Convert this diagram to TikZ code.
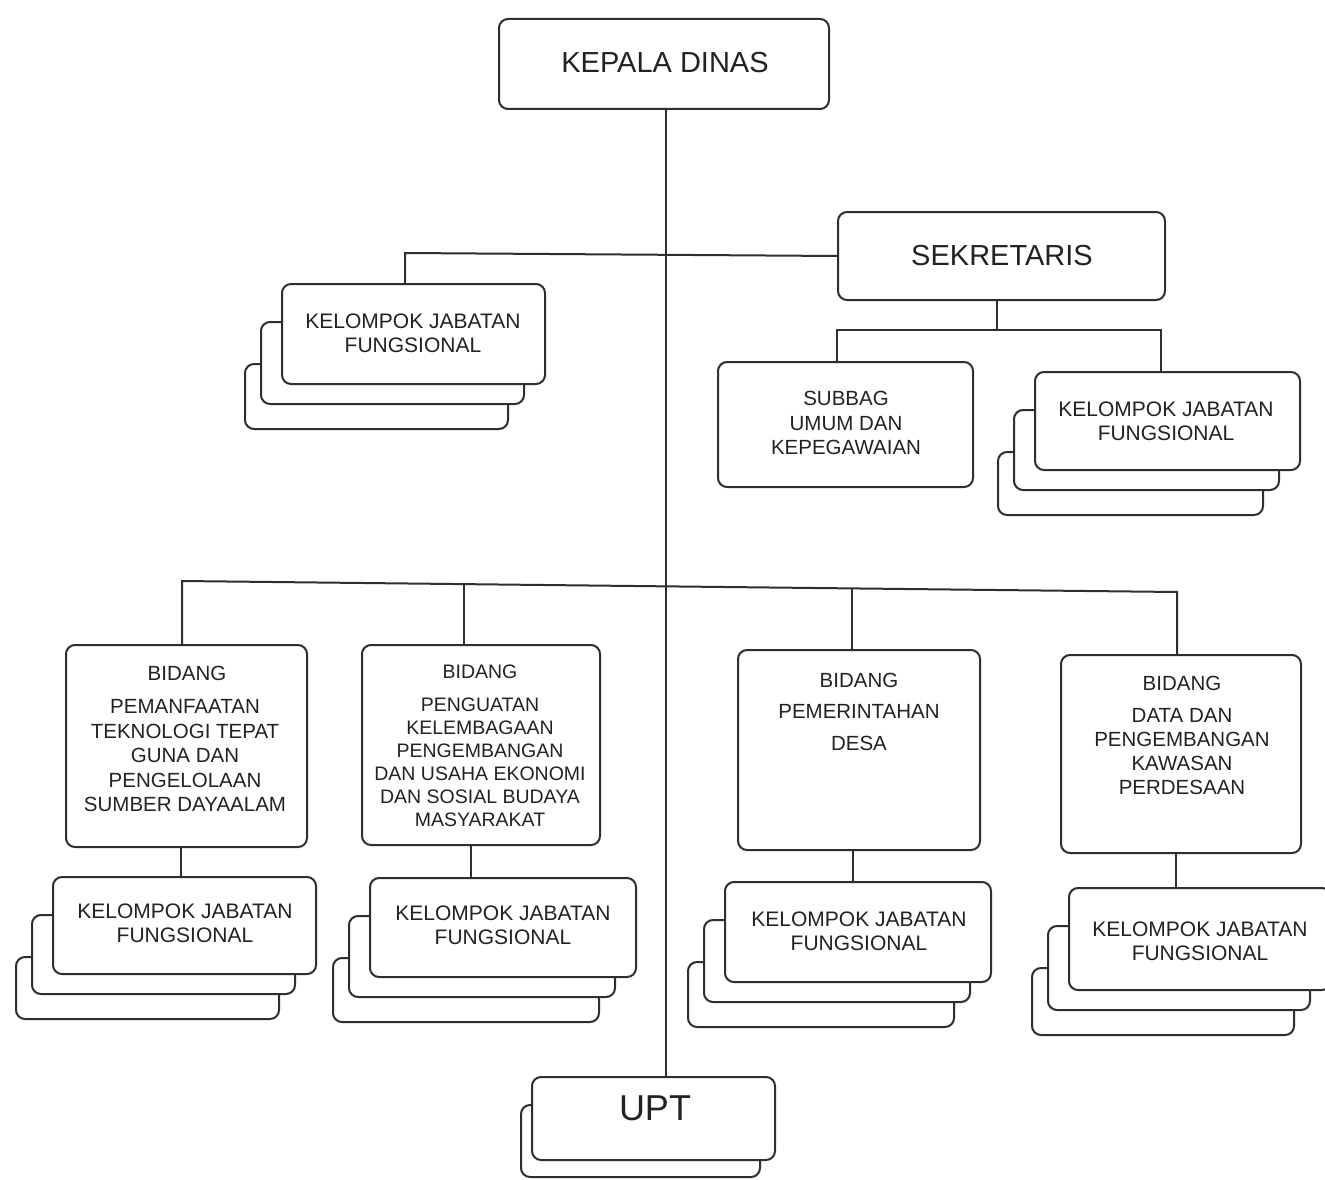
\documentclass[tikz,border=0pt]{standalone}
\usepackage{fontspec}
\setmainfont{Liberation Sans}
\definecolor{lc}{HTML}{2E2E2E}
\definecolor{tc}{HTML}{222222}
\newcommand\bx[5]{\node[box, minimum width={(#4)-(#2)}, minimum height={(#5)-(#3)}] (#1) at ({((#2)+(#4))/2},{((#3)+(#5))/2}) {};}
\newcommand\stk[5]{%
  \bx{#1c}{#2-37}{#3+80}{#4-37}{#5+45}%
  \bx{#1b}{#2-21}{#3+38}{#4-21}{#5+20}%
  \bx{#1}{#2}{#3}{#4}{#5}}
\begin{document}
\begin{tikzpicture}[x=1pt,y=-1pt,
  box/.style={draw=lc, line width=2, rounded corners=9, fill=white, inner sep=0, outer sep=0},
  conn/.style={draw=lc, line width=2},
  lbl/.style={text=tc, align=center, inner sep=0, font=\fontsize{21}{24}\selectfont},
  big/.style={text=tc, align=center, inner sep=0, font=\fontsize{29}{34}\selectfont}]
\useasboundingbox (0,0) rectangle (1325,1180);
% connector coordinates
\coordinate (m) at (666,0);
\coordinate (j0) at (405,253);
\coordinate (s1) at (997,330);
\coordinate (sL) at (837,330);
\coordinate (sR) at (1161,330);
\coordinate (hL) at (182,581);
\coordinate (hR) at (1177,592);
\coordinate (d2) at (464,584);
\coordinate (d3) at (852,588);
\coordinate (x1) at (181,0);
\coordinate (x2) at (471,0);
\coordinate (x3) at (853,0);
\coordinate (x4) at (1176,0);
% main boxes
\bx{kd}{499}{19}{829}{109}
\bx{sek}{838}{212}{1165}{300}
\bx{sub}{718}{362}{973}{487}
\bx{b1}{66}{645}{307}{847}
\bx{b2}{362}{645}{600}{845}
\bx{b3}{738}{650}{980}{850}
\bx{b4}{1061}{655}{1301}{853}
% connectors (drawn before the stacked boxes)
\draw[conn] (kd.south -| m) -- (m |- 0,1077);
\draw[conn] (sek.west) -- (j0) -- (j0 |- 0,285);
\draw[conn] (sek.south -| s1) -- (s1);
\draw[conn] (sL |- sub.north) -- (sL) -- (sR) -- (sR |- 0,372);
\draw[conn] (hL |- b1.north) -- (hL) -- (hR) -- (hR |- b4.north);
\draw[conn] (d2) -- (d2 |- b2.north);
\draw[conn] (d3) -- (d3 |- b3.north);
\draw[conn] (b1.south -| x1) -- (x1 |- 0,877);
\draw[conn] (b2.south -| x2) -- (x2 |- 0,878);
\draw[conn] (b3.south -| x3) -- (x3 |- 0,882);
\draw[conn] (b4.south -| x4) -- (x4 |- 0,888);
% stacked boxes
\stk{k0}{282}{284}{545}{384}
\stk{ks}{1035}{372}{1300}{470}
\stk{k1}{53}{877}{316}{974}
\stk{k2}{370}{878}{636}{977}
\stk{k3}{725}{882}{991}{982}
\stk{k4}{1069}{888}{1331}{990}
\bx{uptb}{521}{1105}{760}{1177}
\bx{upt}{532}{1077}{775}{1160}
% texts
\node[big] (tkd) at (665,63) {KEPALA DINAS};
\node[big] (tsek) at (1002,256) {SEKRETARIS};
\node[text=tc, inner sep=0, font=\fontsize{36}{40}\selectfont] (tupt) at (655,1108) {UPT};
\node[lbl] (tk0) at (413,333) {KELOMPOK JABATAN\\FUNGSIONAL};
\node[lbl] (tks) at (1166,421) {KELOMPOK JABATAN\\FUNGSIONAL};
\node[lbl] (tk1) at (185,923.5) {KELOMPOK JABATAN\\FUNGSIONAL};
\node[lbl] (tk2) at (503,925.5) {KELOMPOK JABATAN\\FUNGSIONAL};
\node[lbl] (tk3) at (859,931.5) {KELOMPOK JABATAN\\FUNGSIONAL};
\node[lbl] (tk4) at (1200,941) {KELOMPOK JABATAN\\FUNGSIONAL};
\node[lbl, font=\fontsize{20.5}{24.5}\selectfont] (tsub) at (846,423) {SUBBAG\\UMUM DAN\\KEPEGAWAIAN};
\node[lbl, font=\fontsize{20.5}{24.5}\selectfont] (tb1a) at (187,673) {BIDANG};
\node[lbl, font=\fontsize{20.5}{24.5}\selectfont] (tb1b) at (185,756) {PEMANFAATAN\\TEKNOLOGI TEPAT\\GUNA DAN\\PENGELOLAAN\\SUMBER DAYAALAM};
\node[lbl, font=\fontsize{19.5}{23}\selectfont] (tb2a) at (480,672) {BIDANG};
\node[lbl, font=\fontsize{19.5}{23}\selectfont] (tb2b) at (480,762.5) {PENGUATAN\\KELEMBAGAAN\\PENGEMBANGAN\\DAN USAHA EKONOMI\\DAN SOSIAL BUDAYA\\MASYARAKAT};
\node[lbl, font=\fontsize{20.5}{31.5}\selectfont] (tb3) at (859,711.5) {BIDANG\\PEMERINTAHAN\\DESA};
\node[lbl, font=\fontsize{20.5}{24.5}\selectfont] (tb4a) at (1182,683) {BIDANG};
\node[lbl, font=\fontsize{20.5}{24.3}\selectfont] (tb4b) at (1182,751.5) {DATA DAN\\PENGEMBANGAN\\KAWASAN\\PERDESAAN};
\end{tikzpicture}
\end{document}
